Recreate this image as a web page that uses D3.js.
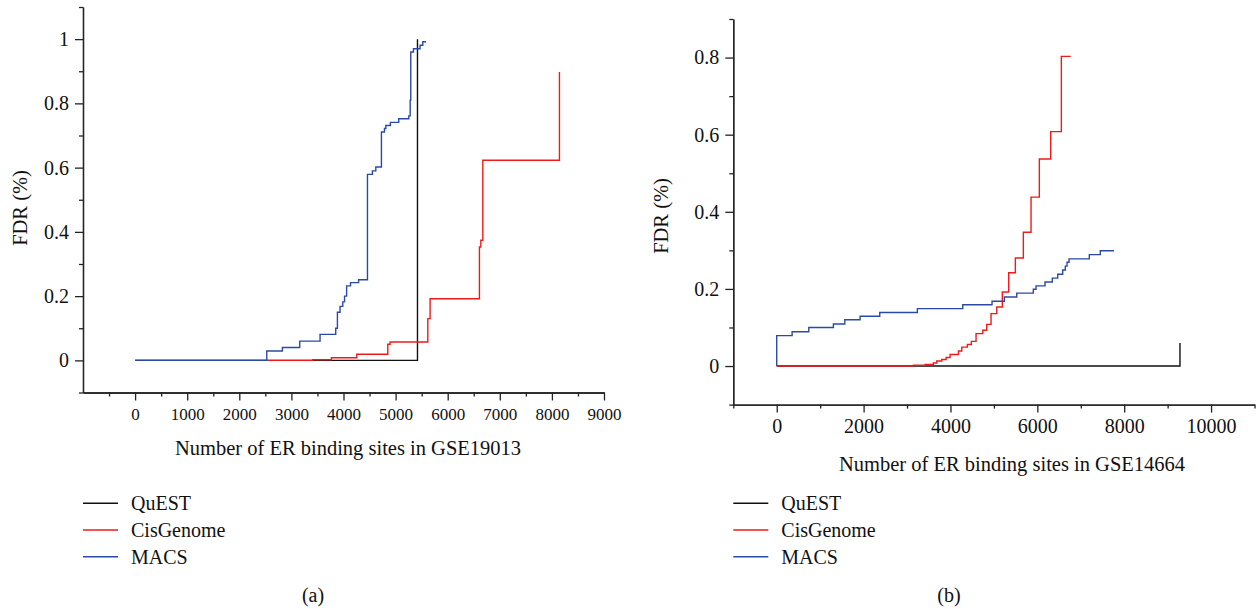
<!DOCTYPE html>
<html><head><meta charset="utf-8">
<script src="https://cdn.jsdelivr.net/npm/d3@7"></script>
<style>
body{margin:0;background:#fff;}
svg{display:block;font-family:"Liberation Serif","Times New Roman",serif;}
.axis path,.axis line{stroke:#222;stroke-width:1.3px;}
</style></head>
<body>
<script>
// ---------- data ----------
const seriesNames = ["QuEST", "CisGenome", "MACS"];
const seriesColors = ["#111111", "#f01a1a", "#2b4aa5"];

// Panel (a): GSE19013  [number of sites, FDR]
const questA = [[0,0],[5420,1.0]];
const cisA = [[0,0],[3410,0.002],[3768,0.008],[4255,0.019],[4850,0.05],[4894,0.057],[5618,0.13],[5662,0.192],[6609,0.353],[6636,0.374],[6674,0.623],[8145,0.898]];
const macsA = [[0,0],[2527,0.029],[2827,0.040],[3160,0.060],[3550,0.081],[3851,0.10],[3883,0.150],[3934,0.168],[3986,0.182],[4020,0.20],[4060,0.232],[4135,0.242],[4290,0.251],[4460,0.579],[4555,0.590],[4620,0.602],[4728,0.711],[4786,0.722],[4812,0.731],[4900,0.741],[5060,0.752],[5253,0.761],[5280,0.81],[5291,0.96],[5343,0.970],[5470,0.981],[5522,0.992],[5586,0.992]];

// Panel (b): GSE14664
const questB = [[0,0],[9284,0.06]];
const cisB = [[0,0],[3147,0.002],[3416,0.004],[3607,0.008],[3685,0.013],[3800,0.017],[3899,0.022],[3991,0.030],[4183,0.039],[4260,0.049],[4389,0.056],[4481,0.064],[4589,0.084],[4743,0.093],[4835,0.108],[4934,0.136],[5066,0.153],[5194,0.192],[5341,0.242],[5494,0.280],[5678,0.347],[5855,0.438],[6046,0.537],[6308,0.608],[6553,0.803],[6769,0.803]];
const macsB = [[0,0],[0,0.079],[354,0.089],[738,0.10],[1305,0.109],[1567,0.12],[1919,0.129],[2372,0.139],[3238,0.149],[4283,0.159],[4957,0.168],[5241,0.179],[5526,0.189],[5908,0.199],[5970,0.208],[6177,0.218],[6345,0.228],[6469,0.238],[6584,0.249],[6644,0.259],[6684,0.269],[6730,0.278],[7197,0.289],[7450,0.299],[7765,0.299]];

// ticks
const xMajorA = [0,1000,2000,3000,4000,5000,6000,7000,8000,9000];
const xMinorA = [-500,500,1500,2500,3500,4500,5500,6500,7500,8500];
const yMajorA = [0,0.2,0.4,0.6,0.8,1];
const yMinorA = [-0.1,0.1,0.3,0.5,0.7,0.9,1.1];
const xMajorB = [0,2000,4000,6000,8000,10000];
const xMinorB = [-1000,1000,3000,5000,7000,9000,11000];
const yMajorB = [0,0.2,0.4,0.6,0.8];
const yMinorB = [-0.1,0.1,0.3,0.5,0.7,0.9];

const xTitleA = "Number of ER binding sites in GSE19013";
const xTitleB = "Number of ER binding sites in GSE14664";
const yTitle = "FDR (%)";

// ---------- drawing ----------
const FONT = '"Liberation Serif","Times New Roman",serif';
const svg = d3.select("body").append("svg").attr("width",1258).attr("height",609);

function panel(cfg){
  const x = d3.scaleLinear().domain(cfg.xDom).range(cfg.xRange);
  const y = d3.scaleLinear().domain(cfg.yDom).range(cfg.yRange);
  const g = svg.append("g");
  const yAxisX = cfg.xRange[0], xAxisY = cfg.yRange[0];

  // minor ticks
  g.append("g").attr("class","axis").attr("transform",`translate(0,${xAxisY})`)
    .call(d3.axisBottom(x).tickValues(cfg.xMinor).tickSize(4).tickSizeOuter(0).tickFormat(""));
  g.append("g").attr("class","axis").attr("transform",`translate(${yAxisX},0)`)
    .call(d3.axisLeft(y).tickValues(cfg.yMinor).tickSize(4).tickSizeOuter(0).tickFormat(""));
  // major ticks
  const xa = g.append("g").attr("class","axis").attr("transform",`translate(0,${xAxisY})`)
    .call(d3.axisBottom(x).tickValues(cfg.xMajor).tickSize(8).tickSizeOuter(0).tickPadding(cfg.xPad).tickFormat(d=>String(d)));
  xa.attr("font-family",FONT).attr("font-size",cfg.xFont);
  xa.selectAll("text").attr("fill","#111").style("font-family",FONT).style("font-size",cfg.xFont+"px");
  const ya = g.append("g").attr("class","axis").attr("transform",`translate(${yAxisX},0)`)
    .call(d3.axisLeft(y).tickValues(cfg.yMajor).tickSize(8).tickSizeOuter(0).tickPadding(6).tickFormat(d=>String(d)));
  ya.attr("font-family",FONT).attr("font-size",cfg.yFont);
  ya.selectAll("text").attr("fill","#111").style("font-family",FONT).style("font-size",cfg.yFont+"px");

  // lines
  const line = d3.line().x(d=>x(d[0])).y(d=>y(d[1])).curve(d3.curveStepAfter);
  cfg.series.forEach((s,i)=>{
    g.append("path").datum(s).attr("d",line).attr("fill","none")
      .attr("stroke",seriesColors[i]).attr("stroke-width",1.4);
  });

  // titles
  g.append("text").attr("x",cfg.xTitlePos[0]).attr("y",cfg.xTitlePos[1]).attr("text-anchor","middle")
    .style("font-family",FONT).style("font-size","20.5px").attr("fill","#111").text(cfg.xTitle);
  g.append("text").attr("transform",`translate(${cfg.yTitlePos[0]},${cfg.yTitlePos[1]}) rotate(-90)`)
    .attr("text-anchor","middle").attr("dy","0.35em").style("font-family",FONT).style("font-size","20.5px").attr("fill","#111").text(yTitle);

  // legend
  seriesNames.forEach((n,i)=>{
    const ly = cfg.legend[1] + i*26.7;
    g.append("line").attr("x1",cfg.legend[0]).attr("x2",cfg.legend[0]+35).attr("y1",ly).attr("y2",ly)
      .attr("stroke",seriesColors[i]).attr("stroke-width",1.5);
    g.append("text").attr("x",cfg.legend[0]+48).attr("y",ly+7).style("font-family",FONT).style("font-size","20px").attr("fill","#111").text(n);
  });
  g.append("text").attr("x",cfg.label[0]).attr("y",cfg.label[1]).attr("text-anchor","middle")
    .style("font-family",FONT).style("font-size","20px").attr("fill","#111").text(cfg.labelText);
}

panel({
  xDom:[-1000,9000], xRange:[83,604], yDom:[-0.1,1.1], yRange:[392.5,7],
  xMajor:xMajorA, xMinor:xMinorA, yMajor:yMajorA, yMinor:yMinorA,
  xFont:17, yFont:20, xPad:7,
  series:[questA,cisA,macsA],
  xTitle:xTitleA, xTitlePos:[348,455], yTitlePos:[20,208],
  legend:[83,503.3], label:[313,602], labelText:"(a)"
});
panel({
  xDom:[-1000,11000], xRange:[733.3,1254.5], yDom:[-0.1,0.9], yRange:[404.6,19],
  xMajor:xMajorB, xMinor:xMinorB, yMajor:yMajorB, yMinor:yMinorB,
  xFont:20, yFont:20, xPad:6,
  series:[questB,cisB,macsB],
  xTitle:xTitleB, xTitlePos:[1012,471], yTitlePos:[661,216],
  legend:[733.3,503.3], label:[949,602], labelText:"(b)"
});
</script>
</body></html>
